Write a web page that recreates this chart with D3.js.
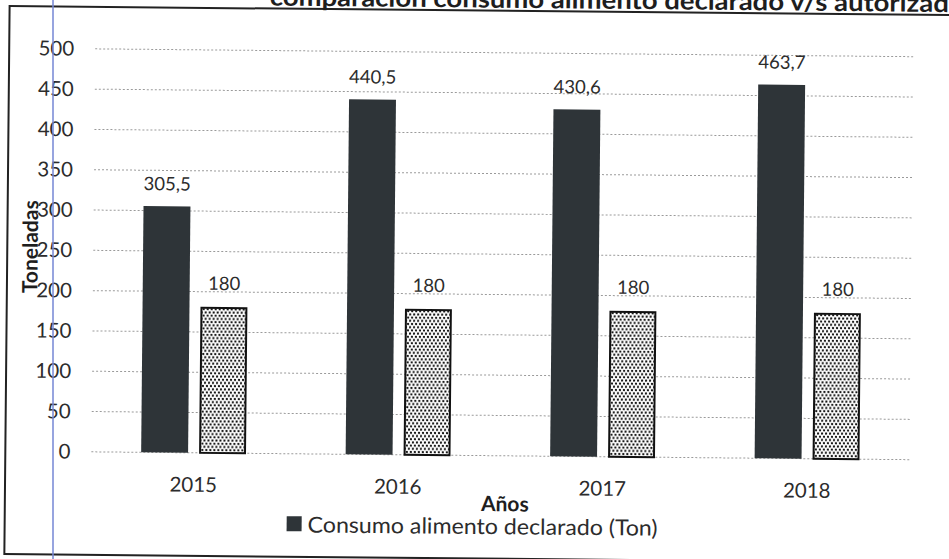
<!DOCTYPE html>
<html>
<head>
<meta charset="utf-8">
<script src="https://cdn.jsdelivr.net/npm/d3@7"></script>
<style>
  body { margin: 0; background: #fff; }
  svg { display: block; font-family: Lato, "Open Sans", sans-serif; }
</style>
</head>
<body>
<div id="chart"></div>
<script>
const years = ['2015', '2016', '2017', '2018'];
const declarado = [305.5, 440.5, 430.6, 463.7];
const autorizado = [180, 180, 180, 180];
const yTicks = [0, 50, 100, 150, 200, 250, 300, 350, 400, 450, 500];
const seriesKeys = ['declarado', 'autorizado'];
const legendLabel = 'Consumo alimento declarado (Ton)';
const titleText = 'comparación consumo alimento declarado v/s autorizado';

const width = 949;
const height = 559;
const plot = { left: 93, right: 911, top: 52.5, bottom: 455.5 };
const textColor = '#2c2c2c';

const svg = d3.select('#chart')
    .append('svg')
    .attr('width', width)
    .attr('height', height);

// dotted fill for the second series
const pat = svg.append('defs').append('pattern')
    .attr('id', 'dots')
    .attr('patternUnits', 'userSpaceOnUse')
    .attr('width', 4)
    .attr('height', 6.4);
pat.append('rect').attr('width', 4).attr('height', 6.4).attr('fill', '#fff');
pat.append('circle').attr('cx', 1).attr('cy', 1.4).attr('r', 1.15).attr('fill', '#111');
pat.append('circle').attr('cx', 3).attr('cy', 4.6).attr('r', 1.15).attr('fill', '#111');

// the scan is slightly tilted
const g = svg.append('g')
    .attr('transform', 'rotate(0.55, 475, 280)');

// frame
g.append('rect')
    .attr('x', 7)
    .attr('y', 10.5)
    .attr('width', 970)
    .attr('height', 548)
    .attr('fill', 'none')
    .attr('stroke', '#222')
    .attr('stroke-width', 2);

g.append('text')
    .attr('x', 267)
    .attr('y', 7.5)
    .attr('font-size', 25)
    .attr('font-weight', 'bold')
    .attr('fill', '#1e1e1e')
    .attr('textLength', 695)
    .attr('lengthAdjust', 'spacingAndGlyphs')
    .text(titleText);

const x = d3.scaleBand()
    .domain(years)
    .range([plot.left, plot.right]);

const xInner = d3.scaleBand()
    .domain(seriesKeys)
    .range([0, x.bandwidth()])
    .paddingInner(0.19)
    .paddingOuter(0.86);

const y = d3.scaleLinear()
    .domain([0, 500])
    .range([plot.bottom, plot.top]);

// gridlines
g.append('g')
    .selectAll('line')
    .data(yTicks)
    .enter()
    .append('line')
    .attr('x1', plot.left)
    .attr('x2', plot.right)
    .attr('y1', d => y(d))
    .attr('y2', d => y(d))
    .attr('stroke', '#9a9a9a')
    .attr('stroke-width', 1)
    .attr('stroke-dasharray', '2,2');

// y axis labels
const yAxis = d3.axisLeft(y).tickValues(yTicks).tickSize(0).tickPadding(0);
const yAxisG = g.append('g')
    .attr('transform', 'translate(72,0)')
    .call(yAxis);
yAxisG.select('.domain').remove();
yAxisG.selectAll('text')
    .attr('font-family', 'Lato, "Open Sans", sans-serif')
    .attr('font-size', 20.5)
    .attr('fill', textColor);

// x axis labels
const xAxisG = g.append('g')
    .attr('transform', 'translate(0,494.5)')
    .call(d3.axisBottom(x).tickSize(0).tickPadding(0));
xAxisG.select('.domain').remove();
xAxisG.selectAll('text')
    .attr('dy', 0)
    .attr('font-family', 'Lato, "Open Sans", sans-serif')
    .attr('font-size', 20.5)
    .attr('fill', textColor);

const rows = years.map((yr, i) => ({ year: yr, declarado: declarado[i], autorizado: autorizado[i] }));
const fmt = v => String(v).replace('.', ',');

const groups = g.selectAll('.year')
    .data(rows)
    .enter()
    .append('g')
    .attr('class', 'year')
    .attr('transform', d => `translate(${x(d.year)},0)`);

groups.append('rect')
    .attr('x', xInner('declarado'))
    .attr('y', d => y(d.declarado))
    .attr('width', xInner.bandwidth())
    .attr('height', d => y(0) - y(d.declarado))
    .attr('fill', '#2e3438');

groups.append('rect')
    .attr('x', xInner('autorizado') + 1)
    .attr('y', d => y(d.autorizado))
    .attr('width', xInner.bandwidth() - 2)
    .attr('height', d => y(0) - y(d.autorizado))
    .attr('fill', 'url(#dots)')
    .attr('stroke', '#111')
    .attr('stroke-width', 2);

// value labels
groups.append('text')
    .attr('x', xInner('declarado') + xInner.bandwidth() / 2)
    .attr('y', d => y(d.declarado) - 16)
    .attr('text-anchor', 'middle')
    .attr('font-size', 18.5)
    .attr('fill', textColor)
    .text(d => fmt(d.declarado));

groups.append('text')
    .attr('x', xInner('autorizado') + xInner.bandwidth() / 2)
    .attr('y', d => y(d.autorizado) - 18)
    .attr('text-anchor', 'middle')
    .attr('font-size', 18.5)
    .attr('fill', textColor)
    .text(d => fmt(d.autorizado));

// axis titles
g.append('text')
    .attr('transform', 'translate(37.5,251) rotate(-90)')
    .attr('text-anchor', 'middle')
    .attr('font-size', 21)
    .attr('font-weight', 'bold')
    .attr('fill', '#1e1e1e')
    .text('Toneladas');

g.append('text')
    .attr('x', 507)
    .attr('y', 511)
    .attr('text-anchor', 'middle')
    .attr('font-size', 21)
    .attr('font-weight', 'bold')
    .attr('fill', '#1e1e1e')
    .text('Años');

// legend
g.append('rect')
    .attr('x', 289)
    .attr('y', 518)
    .attr('width', 15)
    .attr('height', 15)
    .attr('fill', '#2e3438');

g.append('text')
    .attr('x', 310)
    .attr('y', 534)
    .attr('font-size', 22)
    .attr('fill', textColor)
    .attr('textLength', 350)
    .attr('lengthAdjust', 'spacingAndGlyphs')
    .text(legendLabel);

// blue margin line from the scanned page
svg.append('line')
    .attr('x1', 53)
    .attr('x2', 53)
    .attr('y1', 0)
    .attr('y2', height)
    .attr('stroke', '#7486d4')
    .attr('stroke-width', 1.5);
</script>
</body>
</html>
